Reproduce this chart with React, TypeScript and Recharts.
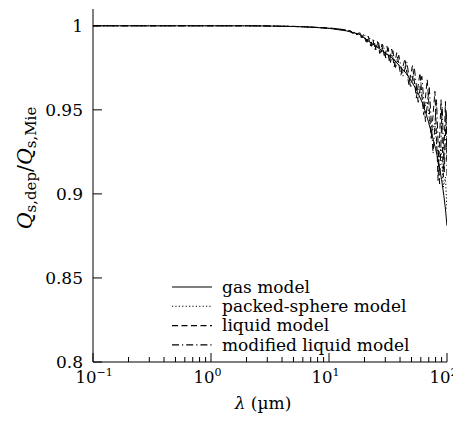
import React from 'react';
import { LineChart, Line, XAxis, YAxis, Legend } from 'recharts';

// Gas model: wavelength (µm) and efficiency ratio
const gasLambda = [
  0.1, 0.3, 1, 2, 3, 5, 7, 10, 14, 18, 22, 26, 30, 35, 40, 45, 50, 56, 62, 68, 74, 80, 85, 90, 94, 97, 100,
];
const gasRatio = [
  1, 1, 1, 1, 0.9999, 0.9996, 0.9992, 0.9985, 0.997, 0.995, 0.9905, 0.987, 0.9838, 0.9803, 0.9758, 0.9718,
  0.967, 0.961, 0.954, 0.9455, 0.936, 0.927, 0.9185, 0.9085, 0.899, 0.891, 0.881,
];

// Liquid and packed-sphere models share this wavelength grid
const liquidLambda = [
  0.1, 0.3, 1, 2, 3, 5, 7, 10, 12, 14,
  15, 15.7, 16.5, 17.2, 18, 18.8, 19.7, 20.6, 21.5, 22.5, 23.5, 24.6,
  25.7, 26.9, 28.2, 29.6, 31, 32.5, 34, 35.7, 37.5, 40.6, 44, 47.5,
  51, 55, 59, 63.5, 68, 73.5, 79, 84, 89, 93, 97, 100,
];
const liquidRatio = [
  1, 1, 1, 1, 0.9999, 0.9997, 0.9993, 0.9987, 0.9982, 0.9975,
  0.9972, 0.9955, 0.9966, 0.9945, 0.996, 0.9928, 0.995, 0.9905, 0.9938, 0.988, 0.9922, 0.9858,
  0.9908, 0.9835, 0.9892, 0.981, 0.9878, 0.9785, 0.9862, 0.9755, 0.984, 0.9705, 0.9805, 0.965,
  0.9765, 0.957, 0.972, 0.947, 0.968, 0.933, 0.961, 0.908, 0.956, 0.91, 0.955, 0.92,
];
const packedSphereRatio = [
  1, 1, 1, 1, 0.9999, 0.9996, 0.9992, 0.9986, 0.9981, 0.9972,
  0.9968, 0.996, 0.996, 0.995, 0.9953, 0.9938, 0.9938, 0.9914, 0.992, 0.989, 0.99, 0.9872,
  0.9885, 0.985, 0.9866, 0.983, 0.9846, 0.9805, 0.9828, 0.978, 0.98, 0.9735, 0.976, 0.9675,
  0.9705, 0.96, 0.964, 0.9505, 0.955, 0.936, 0.942, 0.918, 0.928, 0.904, 0.91, 0.89,
];

// Modified liquid model
const modifiedLambda = [
  0.1, 0.3, 1, 2, 3, 5, 7, 10, 12, 14,
  15.3, 16.1, 16.9, 17.6, 18.4, 19.2, 20.1, 21, 22, 23, 24, 25.1,
  26.3, 27.5, 28.9, 30.3, 31.7, 33.2, 34.8, 36.6, 39, 42.3, 45.7, 49.2,
  53, 57, 61.2, 65.7, 70.7, 76.2, 81.5, 86.5, 91, 95, 98.5, 100,
];
const modifiedRatio = [
  1, 1, 1, 1, 0.9999, 0.9996, 0.9992, 0.9986, 0.9981, 0.9972,
  0.997, 0.9956, 0.9964, 0.9944, 0.9956, 0.9928, 0.9945, 0.9902, 0.9932, 0.9878, 0.9915, 0.9855,
  0.99, 0.9833, 0.9885, 0.9808, 0.987, 0.9782, 0.9852, 0.9752, 0.9825, 0.97, 0.9785, 0.963,
  0.9745, 0.9545, 0.97, 0.943, 0.964, 0.924, 0.956, 0.906, 0.952, 0.913, 0.95, 0.91,
];

const seriesNames = ['gas model', 'packed-sphere model', 'liquid model', 'modified liquid model'];

const xTickValues = [
  0.1, 0.2, 0.3, 0.4, 0.5, 0.6, 0.7, 0.8, 0.9,
  1, 2, 3, 4, 5, 6, 7, 8, 9,
  10, 20, 30, 40, 50, 60, 70, 80, 90,
  100,
];
const yTickValues = [0.8, 0.85, 0.9, 0.95, 1];

const toPoints = (lams: number[], vals: number[]) => lams.map((lam, i) => ({ lam, q: vals[i] }));

const seriesData = [
  toPoints(gasLambda, gasRatio),
  toPoints(liquidLambda, packedSphereRatio),
  toPoints(liquidLambda, liquidRatio),
  toPoints(modifiedLambda, modifiedRatio),
];

// Line styles: solid, dotted, dashed, dash-dot
const dashes = [undefined, '1.2 2.2', '6 3.5', '7 3 1.2 3'];

const FONT = '"DejaVu Serif", "Liberation Serif", serif';
const FS = 17;

const isDecade = (v: number) => Math.abs(Math.log10(v) - Math.round(Math.log10(v))) < 1e-9;
const expText = (e: number) => (e < 0 ? '\u2212' + Math.abs(e) : String(e));

function BottomTick(props: any) {
  const { x, y, payload } = props;
  const v = payload.value;
  const major = isDecade(v);
  const e = Math.round(Math.log10(v));
  return (
    <g>
      <line x1={x} x2={x} y1={y} y2={y - (major ? 9 : 5)} stroke="#000" strokeWidth={1} />
      {major && (
        <g>
          <text x={x + 3.5} y={y + 21} textAnchor="end" fontSize={16.5} style={{ fontFamily: FONT }} fill="#000">
            10
          </text>
          <text x={x + 3.5} y={y + 14} textAnchor="start" fontSize={11} style={{ fontFamily: FONT }} fill="#000">
            {expText(e)}
          </text>
        </g>
      )}
    </g>
  );
}

function TopTick(props: any) {
  const { x, y, payload } = props;
  const major = isDecade(payload.value);
  return <line x1={x} x2={x} y1={y} y2={y + (major ? 9 : 5)} stroke="#000" strokeWidth={1} />;
}

function LeftTick(props: any) {
  const { x, y, payload } = props;
  return (
    <g>
      <line x1={x} x2={x + 9} y1={y} y2={y} stroke="#000" strokeWidth={1} />
      <text x={x - 10} y={y} dy="0.36em" textAnchor="end" fontSize={FS} style={{ fontFamily: FONT }} fill="#000">
        {String(payload.value)}
      </text>
    </g>
  );
}

function RightTick(props: any) {
  const { x, y } = props;
  return <line x1={x} x2={x - 9} y1={y} y2={y} stroke="#000" strokeWidth={1} />;
}

function YTitle() {
  return (
    <text
      transform="translate(24,160) rotate(-90)"
      textAnchor="middle"
      fontSize={20.5}
      style={{ fontFamily: FONT }}
      fill="#000"
    >
      <tspan fontStyle="italic">Q</tspan>
      <tspan fontSize={15} dy={4}>s,dep</tspan>
      <tspan dy={-4}>/</tspan>
      <tspan fontStyle="italic">Q</tspan>
      <tspan fontSize={15} dy={4}>s,Mie</tspan>
    </text>
  );
}

function XTitle() {
  return (
    <text x={255} y={401} textAnchor="middle" fontSize={FS} style={{ fontFamily: FONT }} fill="#000">
      <tspan fontStyle="italic">λ</tspan>
      <tspan> (µm)</tspan>
    </text>
  );
}

function LegendBox() {
  return (
    <svg width={280} height={90} style={{ display: 'block' }}>
      {seriesNames.map((name, i) => {
        const y = 10 + i * 19.3;
        return (
          <g key={name}>
            <line x1={0} x2={40} y1={y} y2={y} stroke="#000" strokeWidth={1.1} strokeDasharray={dashes[i]} />
            <text x={50} y={y} dy="0.34em" fontSize={FS} style={{ fontFamily: FONT }} fill="#000">
              {name}
            </text>
          </g>
        );
      })}
    </svg>
  );
}

export default function App() {
  return (
    <LineChart
      width={453}
      height={406}
      margin={{ top: 1, right: 14, bottom: 0, left: 0 }}
      style={{ fontFamily: FONT }}
    >
      <XAxis
        dataKey="lam"
        type="number"
        scale="log"
        domain={[0.1, 100]}
        allowDataOverflow
        ticks={xTickValues}
        interval={0}
        tickSize={0}
        tickMargin={0}
        tickLine={false}
        tick={<BottomTick />}
        height={52}
        axisLine={{ stroke: '#000', strokeWidth: 1 }}
        label={<XTitle />}
      />
      <XAxis
        xAxisId="top"
        dataKey="lam"
        orientation="top"
        type="number"
        scale="log"
        domain={[0.1, 100]}
        allowDataOverflow
        ticks={xTickValues}
        interval={0}
        tickSize={0}
        tickMargin={0}
        tickLine={false}
        tick={<TopTick />}
        height={0}
        axisLine={{ stroke: '#000', strokeWidth: 1 }}
      />
      <YAxis
        type="number"
        domain={[0.8, 1.01]}
        allowDataOverflow
        ticks={yTickValues}
        interval={0}
        tickSize={0}
        tickMargin={0}
        tickLine={false}
        tick={<LeftTick />}
        width={85}
        axisLine={{ stroke: '#000', strokeWidth: 1 }}
        label={<YTitle />}
      />
      <YAxis
        yAxisId="right"
        orientation="right"
        type="number"
        domain={[0.8, 1.01]}
        allowDataOverflow
        ticks={yTickValues}
        interval={0}
        tickSize={0}
        tickMargin={0}
        tickLine={false}
        tick={<RightTick />}
        width={0}
        axisLine={{ stroke: '#000', strokeWidth: 1 }}
      />
      <Legend
        layout="vertical"
        align="center"
        verticalAlign="middle"
        content={<LegendBox />}
        wrapperStyle={{ position: 'absolute', left: 164, top: 269, width: 280, height: 90 }}
      />
      {seriesNames.map((name, i) => (
        <Line
          key={name}
          data={seriesData[i]}
          dataKey="q"
          name={name}
          type="linear"
          stroke="#000"
          strokeWidth={1}
          strokeDasharray={dashes[i]}
          dot={false}
          activeDot={false}
          isAnimationActive={false}
        />
      ))}
    </LineChart>
  );
}
